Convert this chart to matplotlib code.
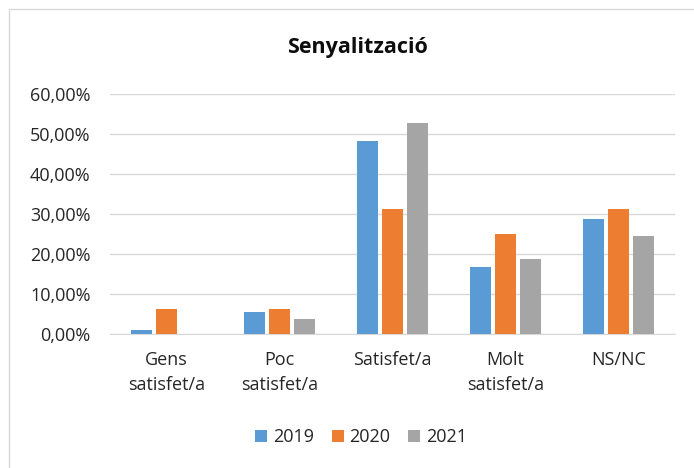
import numpy as np
import matplotlib
matplotlib.use("Agg")
import matplotlib.pyplot as plt
from matplotlib.patches import Rectangle
from matplotlib.ticker import FuncFormatter

plt.rcParams['font.family'] = ['Open Sans', 'DejaVu Sans']

categories = ["Gens\nsatisfet/a", "Poc\nsatisfet/a", "Satisfet/a", "Molt\nsatisfet/a", "NS/NC"]
years = ["2019", "2020", "2021"]
v2019 = [0.93, 5.56, 48.15, 16.67, 28.70]
v2020 = [6.25, 6.25, 31.25, 25.00, 31.25]
v2021 = [0.00, 3.77, 52.83, 18.87, 24.53]
colors = ["#5B9BD5", "#ED7D31", "#A5A5A5"]

fig = plt.figure(figsize=(6.94, 4.68), dpi=100)
ax = fig.add_axes([110 / 694, 1 - 334 / 468, 565 / 694, 240 / 468])

# chart border (Excel frame)
fig.patches.append(Rectangle((9 / 694, -0.1), 1.2, 1 - 9 / 468 + 0.1,
                             transform=fig.transFigure, fill=False,
                             edgecolor="#d9d9d9", linewidth=1.0))

x = np.arange(len(categories))
step = 0.221
w = 0.18
for i, (vals, c, lab) in enumerate(zip([v2019, v2020, v2021], colors, years)):
    ax.bar(x + (i - 1) * step, vals, width=w, color=c, label=lab, zorder=3)

ax.set_xlim(-0.5, len(categories) - 0.5)
ax.set_ylim(0, 60)
ax.set_yticks(np.arange(0, 61, 10))
ax.yaxis.set_major_formatter(FuncFormatter(lambda v, p: f"{v:.2f}%".replace(".", ",")))
ax.grid(axis="y", color="#d9d9d9", linewidth=1.0, zorder=0)
ax.set_xticks(x)
ax.set_xticklabels(categories, fontsize=13, color="#262626", linespacing=1.55)
ax.tick_params(axis="y", length=0, pad=14, labelsize=13, labelcolor="#262626")
ax.tick_params(axis="x", length=0, pad=12)
for s in ["top", "right", "left"]:
    ax.spines[s].set_visible(False)
ax.spines["bottom"].set_color("#d9d9d9")

fig.text(357 / 694, 1 - 47 / 468, "Senyalització", ha="center", va="center",
         fontsize=15.5, fontweight="bold", color="#0d0d0d")

fig.legend(loc="center", bbox_to_anchor=(361 / 694, 1 - 437 / 468), ncol=3,
           frameon=False, fontsize=13, handlelength=0.67, handleheight=0.67,
           handletextpad=0.3, columnspacing=1.0, labelcolor="#262626")

fig.savefig("out.png", dpi=100)
